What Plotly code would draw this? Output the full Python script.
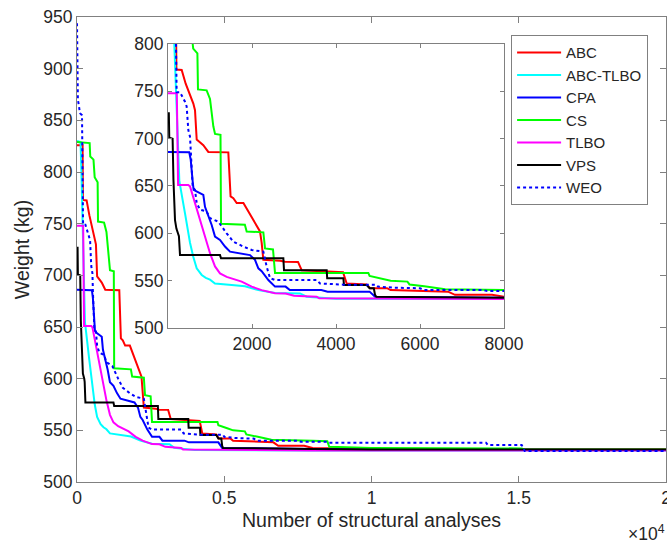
import plotly.graph_objects as go

# ---- data (number of structural analyses, weight in kg) ----
abc_x = [0, 190, 200, 326, 421, 603, 643, 683, 841, 960, 1436, 1490, 1555, 1635, 1795, 2190, 2230, 2270, 2667, 2786, 3095, 3183, 4167, 4254, 4730, 4810, 5214, 5300, 6667, 6833, 7714, 8000, 9000, 10000, 20000]
abc_y = [826, 826, 773, 772.5, 758, 737, 730, 699, 693, 686, 685.5, 639, 637, 632, 632, 602, 590, 572, 571, 570, 569.8, 561, 559, 547, 546, 542, 542, 540, 538.4, 535, 535, 533, 532.5, 531.5, 531.5]

abctlbo_x = [0, 120, 150, 270, 405, 524, 603, 683, 802, 900, 1000, 1119, 1516, 1833, 2151, 2548, 3143, 3300, 4000, 8000, 20000]
abctlbo_y = [830, 829, 800, 655, 621, 590, 575, 563, 556, 553, 551, 547, 545.5, 544, 540, 537, 536.5, 533, 531, 530.5, 530.5]

cpa_x = [0, 87, 506, 540, 560, 587, 610, 683, 841, 881, 960, 1040, 1119, 1238, 1357, 1476, 1952, 2071, 2151, 2230, 2389, 2548, 2800, 2900, 3650, 3800, 4800, 4929, 8000, 10000, 20000]
cpa_y = [686, 686, 685.6, 678, 665, 655, 646, 644, 640.5, 628, 619.4, 608.8, 596.5, 593, 586, 580.6, 577, 572, 563, 560, 550.7, 543.7, 543.7, 540, 540, 538.4, 538.4, 533, 532, 531.5, 531]

cs_x = [0, 430, 450, 560, 600, 700, 714, 920, 1000, 1079, 1120, 1250, 1262, 1830, 1873, 2270, 2310, 2500, 2548, 4770, 4800, 5100, 5300, 5700, 5750, 6100, 6600, 8000, 8500, 8565, 10000, 15100, 15200, 20000]
cs_y = [829, 828, 815, 812, 795, 790, 752, 751, 742, 713, 705, 704, 610, 609, 602, 601, 584, 583, 558, 558, 555, 552, 550, 549, 546, 544, 541, 540, 539.5, 534, 533, 532.5, 531.5, 531.5]

tlbo_x = [0, 210, 240, 484, 524, 643, 762, 881, 1000, 1119, 1238, 1397, 1516, 1754, 1992, 2230, 2548, 2800, 3000, 3540, 3600, 8000, 20000]
tlbo_y = [748, 748, 651, 651, 649.6, 632, 614, 595, 579, 565, 557.7, 554, 552.4, 549, 543.7, 540, 536.7, 536.5, 534, 533, 531.4, 530.5, 530.5]

vps_x = [0, 20, 30, 100, 110, 130, 167, 200, 246, 260, 286, 1238, 1262, 2746, 2762, 3778, 3790, 4175, 4190, 4730, 4800, 4900, 4929, 4960, 8000, 10000, 20000]
vps_y = [726.8, 726.8, 701, 700.4, 700, 656, 614, 605, 600, 597, 577, 577, 573.6, 573.6, 561, 561, 552.6, 552.6, 545.4, 545.4, 542, 542, 535, 533, 532, 531.5, 531.5]

weo_x = [0, 5, 30, 60, 100, 170, 190, 192, 206, 286, 405, 444, 484, 524, 540, 564, 587, 643, 683, 762, 920, 1000, 1198, 1397, 1555, 1794, 1992, 2270, 2349, 2429, 2548, 3540, 3620, 4175, 4960, 5000, 5400, 6000, 6100, 7510, 7600, 8500, 8565, 13890, 13950, 15100, 15200, 20000]
weo_y = [944, 900, 870, 865, 857, 855, 800, 751, 749, 749, 739, 734, 709, 702, 684.5, 663.4, 649.3, 645.8, 632, 625, 623, 616, 612.3, 600, 591.2, 586, 582.4, 580.6, 564.8, 552.6, 550.7, 550.7, 547, 545.8, 545.8, 543.7, 542.5, 542, 540, 540, 539, 539, 538, 538, 535.8, 535.8, 530, 530]

names = ["ABC", "ABC-TLBO", "CPA", "CS", "TLBO", "VPS", "WEO"]
xs = [abc_x, abctlbo_x, cpa_x, cs_x, tlbo_x, vps_x, weo_x]
ys = [abc_y, abctlbo_y, cpa_y, cs_y, tlbo_y, vps_y, weo_y]
colors = ["#FF0000", "#00FFFF", "#0000FF", "#00FF00", "#FF00FF", "#000000", "#0000FF"]
dashes = ["solid", "solid", "solid", "solid", "solid", "solid", "dot"]

main_xticks = [0, 5000, 10000, 15000, 20000]
main_xticktext = ["0", "0.5", "1", "1.5", "2"]
inset_xticks = [2000, 4000, 6000, 8000]
inset_xticktext = ["2000", "4000", "6000", "8000"]

FONT = "Liberation Sans, Arial, sans-serif"
TXT = "#262626"
AX = "#808080"

fig = go.Figure()
for n, x, y, c, d in zip(names, xs, ys, colors, dashes):
    fig.add_trace(go.Scatter(x=x, y=y, mode="lines", name=n,
                             line=dict(color=c, width=2, dash=d),
                             xaxis="x", yaxis="y"))
for n, x, y, c, d in zip(names, xs, ys, colors, dashes):
    fig.add_trace(go.Scatter(x=x, y=y, mode="lines", name=n, showlegend=False,
                             line=dict(color=c, width=2, dash=d),
                             xaxis="x2", yaxis="y2"))

axc = dict(showgrid=False, zeroline=False, showline=True, linecolor=AX, linewidth=1,
           mirror="ticks", ticks="inside", tickcolor=AX, tickwidth=1, automargin=False,
           ticklabeloverflow="allow",
           tickfont=dict(family=FONT, size=17.5, color=TXT))

fig.update_layout(
    width=667, height=542,
    margin=dict(l=77, r=1, t=17, b=60, autoexpand=False),
    paper_bgcolor="white", plot_bgcolor="white",
    font=dict(family=FONT, color=TXT),
    xaxis=dict(axc, domain=[0, 1], range=[0, 20000], tickvals=main_xticks,
               ticktext=main_xticktext, ticklen=6, anchor="y",
               title=dict(text="Number of structural analyses", font=dict(size=19.5, family=FONT, color=TXT), standoff=6)),
    yaxis=dict(axc, domain=[0, 1], range=[500, 950], dtick=50, ticklen=6, anchor="x",
               title=dict(text="Weight (kg)", font=dict(size=19.5, family=FONT, color=TXT), standoff=8)),
    xaxis2=dict(axc, domain=[0.1545, 0.725], range=[0, 8000], tickvals=inset_xticks,
                ticktext=inset_xticktext, ticklen=4, anchor="y2"),
    yaxis2=dict(axc, domain=[0.3312, 0.942], range=[500, 800], dtick=50, ticklen=4, anchor="x2"),
    legend=dict(x=0.737, y=0.961, xanchor="left", yanchor="top", bgcolor="white",
                bordercolor=AX, borderwidth=1, itemwidth=44,
                font=dict(family=FONT, size=15, color=TXT)),
    showlegend=True,
)

fig.add_annotation(text="×10<sup>4</sup>", xref="paper", yref="paper", x=0.932, y=-0.11,
                   xanchor="left", yanchor="middle", showarrow=False,
                   font=dict(family=FONT, size=17.5, color=TXT))

fig.write_html("out.html", config={"displayModeBar": False},
               post_script="document.body.style.margin='0px';document.body.style.padding='0px';document.body.style.overflow='hidden';")
